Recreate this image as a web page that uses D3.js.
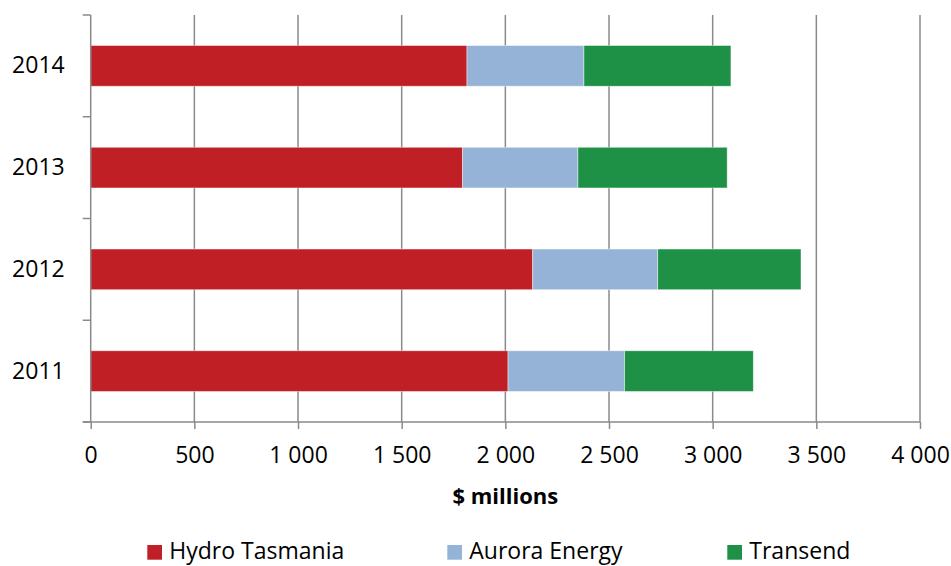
<!DOCTYPE html>
<html>
<head>
<meta charset="utf-8">
<script src="https://cdn.jsdelivr.net/npm/d3@7"></script>
<style>
  html, body { margin: 0; padding: 0; background: #fff; }
  svg { display: block; }
  text { font-family: "Open Sans", sans-serif; fill: #000; }
</style>
</head>
<body>
<svg id="chart" width="951" height="566"></svg>
<script>
// ---- data ----
const years = ["2014", "2013", "2012", "2011"];
const seriesNames = ["Hydro Tasmania", "Aurora Energy", "Transend"];
const hydroTasmania = [1815, 1794, 2132, 2013];
const auroraEnergy  = [564, 556, 603, 562];
const transend      = [709, 720, 691, 621];
const xTickValues   = [0, 500, 1000, 1500, 2000, 2500, 3000, 3500, 4000];
const xAxisTitle    = "$ millions";

const colors = ["#C01F26", "#95B3D7", "#1E9146"];

// ---- layout ----
const svg = d3.select("#chart");
const plotLeft = 90.7, plotRight = 920, plotTop = 15, plotBottom = 422;
const gridColor = "#8a8a8a";

const x = d3.scaleLinear().domain([0, 4000]).range([plotLeft, plotRight]);
const y = d3.scaleBand().domain(years).range([plotTop, plotBottom])
  .paddingInner(0.6).paddingOuter(0.3);

const rows = years.map((yr, i) => ({
  year: yr,
  "Hydro Tasmania": hydroTasmania[i],
  "Aurora Energy": auroraEnergy[i],
  "Transend": transend[i]
}));
const stacked = d3.stack().keys(seriesNames)(rows);

// gridlines
svg.append("g").selectAll("line")
  .data(xTickValues.slice(1))
  .join("line")
  .attr("x1", d => x(d)).attr("x2", d => x(d))
  .attr("y1", plotTop).attr("y2", plotBottom)
  .attr("stroke", gridColor).attr("stroke-width", 1.5);

// bars
svg.append("g").selectAll("g")
  .data(stacked)
  .join("g")
  .attr("fill", (d, i) => colors[i])
  .selectAll("rect")
  .data(d => d)
  .join("rect")
  .attr("x", d => x(d[0]))
  .attr("width", d => x(d[1]) - x(d[0]))
  .attr("y", d => y(d.data.year))
  .attr("height", y.bandwidth())
  .attr("stroke", "rgba(255,255,255,0.55)")
  .attr("stroke-width", 0.8);

// number format with space thousands separator
const loc = d3.formatLocale({ decimal: ".", thousands: " ", grouping: [3], currency: ["$", ""] });
const fmt = loc.format(",");

// x axis
const xAxis = svg.append("g")
  .attr("transform", `translate(0,${plotBottom})`)
  .call(d3.axisBottom(x).tickValues(xTickValues).tickFormat(fmt).tickSize(7).tickSizeOuter(0).tickPadding(18));
xAxis.select(".domain").attr("stroke", gridColor).attr("stroke-width", 1.5)
  .attr("d", `M${plotLeft - 8},0H${plotRight}`);
xAxis.selectAll(".tick line").attr("stroke", gridColor).attr("stroke-width", 1.5);
xAxis.selectAll(".tick text").style("font-size", "23px").style("font-family", "'Open Sans', sans-serif").attr("fill", "#000");

// y axis
const yAxis = svg.append("g")
  .attr("transform", `translate(${plotLeft},0)`)
  .call(d3.axisLeft(y).tickSize(0).tickPadding(26));
yAxis.select(".domain").attr("stroke", gridColor).attr("stroke-width", 1.5)
  .attr("d", `M0,${plotTop}V${plotBottom}`);
yAxis.selectAll(".tick text").style("font-size", "23px").style("font-family", "'Open Sans', sans-serif").attr("fill", "#000");

// category boundary ticks
const step = y.step();
const boundaries = years.map(yr => y(yr) - step * y.paddingOuter()).concat([plotBottom]);
yAxis.append("g").selectAll("line")
  .data(boundaries)
  .join("line")
  .attr("x1", -8).attr("x2", 0)
  .attr("y1", d => d).attr("y2", d => d)
  .attr("stroke", gridColor).attr("stroke-width", 1.5);

// x axis title
svg.append("text")
  .attr("x", (plotLeft + plotRight) / 2)
  .attr("y", 504)
  .attr("text-anchor", "middle")
  .style("font-size", "22px")
  .style("font-weight", "bold")
  .text(xAxisTitle);

// legend
const legendX = [147.3, 447.3, 727.3];
const lg = svg.append("g").selectAll("g")
  .data(seriesNames)
  .join("g")
  .attr("transform", (d, i) => `translate(${legendX[i]},545)`);
lg.append("rect")
  .attr("width", 14.7).attr("height", 14.7)
  .attr("fill", (d, i) => colors[i]);
lg.append("text")
  .attr("x", 22).attr("y", 14.3)
  .style("font-size", "23px")
  .text(d => d);
</script>
</body>
</html>
